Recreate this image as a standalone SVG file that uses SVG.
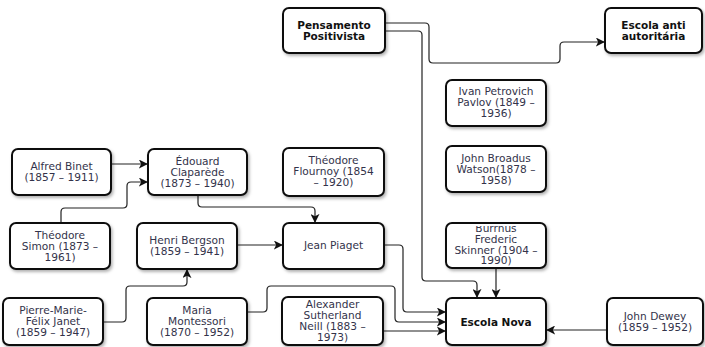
<svg xmlns="http://www.w3.org/2000/svg" width="705" height="347" viewBox="0 0 705 347">
  <defs>
    <filter id="shadow" x="-10%" y="-10%" width="130%" height="140%">
      <feDropShadow dx="1.5" dy="2" stdDeviation="1.5" flood-color="#000" flood-opacity="0.3"/>
    </filter>
    <marker id="arrow" viewBox="0 0 10 10" refX="9" refY="5" markerWidth="9" markerHeight="9" markerUnits="userSpaceOnUse" orient="auto">
      <path d="M0,0 L10,5 L0,10 L2.5,5 Z" fill="#111"/>
    </marker>
    <clipPath id="clip-skinner">
      <rect x="447" y="226" width="98" height="41"/>
    </clipPath>
  </defs>
  <style>
    .box { fill: #fff; stroke: #111; stroke-width: 2; filter: url(#shadow); }
    .t { font-family: "DejaVu Sans", "Noto Sans", sans-serif; font-size: 10.6px; fill: #33334a; text-anchor: middle; }
    .b { font-family: "DejaVu Sans", "Noto Sans", sans-serif; font-size: 10.5px; font-weight: bold; fill: #111; text-anchor: middle; }
    .c { fill: none; stroke: #222; stroke-width: 1.2; }
    .a { marker-end: url(#arrow); }
  </style>
  <rect width="705" height="347" fill="#fff"/>

  <g id="connectors">
    <path class="c a" d="M385,23 H425 Q429,23 429,27 V59 Q429,63 433,63 H556 Q560,63 560,59 V46 Q560,42 564,42 H604"/>
    <path class="c a" d="M385,31 H418 Q422,31 422,35 V277 Q422,281 426,281 H473 Q477,281 477,285 V297"/>
    <path class="c a" d="M496,268 V297"/>
    <path class="c a" d="M111,164 H147"/>
    <path class="c a" d="M61,223 V212 Q61,208 65,208 H123 Q127,208 127,204 V186 Q127,182 131,182 H147"/>
    <path class="c a" d="M198,195 V203 Q198,207 202,207 H311 Q315,207 315,211 V222"/>
    <path class="c a" d="M237,245 H282"/>
    <path class="c a" d="M103,322 H122 Q126,322 126,318 V290 Q126,286 130,286 H183 Q187,286 187,282 V270"/>
    <path class="c a" d="M247,312 H263 Q267,312 267,308 V290 Q267,286 271,286 H391 Q395,286 395,290 V318 Q395,322 399,322 H445"/>
    <path class="c a" d="M384,245 H399 Q403,245 403,249 V308 Q403,312 407,312 H445"/>
    <path class="c a" d="M383,331 H445"/>
    <path class="c a" d="M607,330 H547"/>
  </g>

  <g id="pensamento">
    <rect class="box" x="283" y="8" width="102" height="45" rx="6"/>
    <text class="b"><tspan x="334" y="28.5">Pensamento</tspan><tspan x="334" y="40">Positivista</tspan></text>
  </g>
  <g id="escola-anti">
    <rect class="box" x="605" y="8" width="97" height="45" rx="6"/>
    <text class="b"><tspan x="653.5" y="28.5">Escola anti</tspan><tspan x="653.5" y="40">autoritária</tspan></text>
  </g>
  <g id="pavlov">
    <rect class="box" x="446" y="80" width="100" height="46" rx="6"/>
    <text class="t"><tspan x="496" y="94.5">Ivan Petrovich</tspan><tspan x="496" y="105.5">Pavlov (1849 –</tspan><tspan x="496" y="116.5">1936)</tspan></text>
  </g>
  <g id="watson">
    <rect class="box" x="446" y="146" width="100" height="46" rx="6"/>
    <text class="t"><tspan x="496" y="161.5">John Broadus</tspan><tspan x="496" y="172.5">Watson(1878 –</tspan><tspan x="496" y="183.5">1958)</tspan></text>
  </g>
  <g id="skinner">
    <rect class="box" x="446" y="223" width="100" height="45" rx="6"/>
    <text class="t" clip-path="url(#clip-skinner)"><tspan x="496" y="231.5">Burrhus</tspan><tspan x="496" y="242.5">Frederic</tspan><tspan x="496" y="253.5">Skinner (1904 –</tspan><tspan x="496" y="264">1990)</tspan></text>
  </g>
  <g id="escola-nova">
    <rect class="box" x="446" y="298" width="100" height="47" rx="6"/>
    <text class="b" x="496" y="325.5">Escola Nova</text>
  </g>
  <g id="dewey">
    <rect class="box" x="607" y="298" width="96" height="47" rx="6"/>
    <text class="t"><tspan x="655" y="319.5">John Dewey</tspan><tspan x="655" y="330.5">(1859 – 1952)</tspan></text>
  </g>
  <g id="binet">
    <rect class="box" x="12" y="149" width="99" height="46" rx="6"/>
    <text class="t"><tspan x="61.5" y="169.5">Alfred Binet</tspan><tspan x="61.5" y="180.5">(1857 – 1911)</tspan></text>
  </g>
  <g id="claparede">
    <rect class="box" x="148" y="149" width="99" height="46" rx="6"/>
    <text class="t"><tspan x="197.5" y="164.5">Édouard</tspan><tspan x="197.5" y="175.5">Claparède</tspan><tspan x="197.5" y="186.5">(1873 – 1940)</tspan></text>
  </g>
  <g id="flournoy">
    <rect class="box" x="283" y="148" width="101" height="48" rx="6"/>
    <text class="t"><tspan x="333.5" y="164">Théodore</tspan><tspan x="333.5" y="175">Flournoy (1854</tspan><tspan x="333.5" y="186">– 1920)</tspan></text>
  </g>
  <g id="simon">
    <rect class="box" x="10" y="223" width="100" height="46" rx="6"/>
    <text class="t"><tspan x="60" y="238.5">Théodore</tspan><tspan x="60" y="249.5">Simon (1873 –</tspan><tspan x="60" y="260.5">1961)</tspan></text>
  </g>
  <g id="bergson">
    <rect class="box" x="137" y="223" width="100" height="46" rx="6"/>
    <text class="t"><tspan x="187" y="243.5">Henri Bergson</tspan><tspan x="187" y="254.5">(1859 – 1941)</tspan></text>
  </g>
  <g id="piaget">
    <rect class="box" x="283" y="223" width="101" height="46" rx="6"/>
    <text class="t" x="333.5" y="248.5">Jean Piaget</text>
  </g>
  <g id="janet">
    <rect class="box" x="3" y="298" width="100" height="47" rx="6"/>
    <text class="t"><tspan x="53" y="313.5">Pierre-Marie-</tspan><tspan x="53" y="324.5">Félix Janet</tspan><tspan x="53" y="335.5">(1859 – 1947)</tspan></text>
  </g>
  <g id="montessori">
    <rect class="box" x="147" y="298" width="100" height="47" rx="6"/>
    <text class="t"><tspan x="197" y="313.5">Maria</tspan><tspan x="197" y="324.5">Montessori</tspan><tspan x="197" y="335.5">(1870 – 1952)</tspan></text>
  </g>
  <g id="neill">
    <rect class="box" x="282" y="297" width="101" height="48" rx="6"/>
    <text class="t"><tspan x="332.5" y="307.5">Alexander</tspan><tspan x="332.5" y="318.5">Sutherland</tspan><tspan x="332.5" y="329.5">Neill (1883 –</tspan><tspan x="332.5" y="340.5">1973)</tspan></text>
  </g>
</svg>
